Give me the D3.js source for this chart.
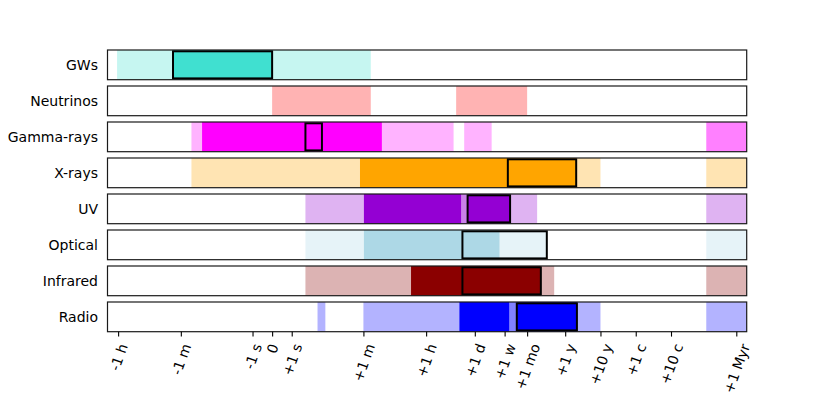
<!DOCTYPE html>
<html>
<head>
<meta charset="utf-8">
<script src="https://cdn.jsdelivr.net/npm/d3@7"></script>
<style>
  html, body { margin: 0; padding: 0; background: #fff; }
  svg { display: block; }
  text { font-family: "DejaVu Sans", sans-serif; }
</style>
</head>
<body>
<script>
// time units (seconds)
const S = 1, MIN = 60, H = 3600, D = 86400, W = 7 * D, MO = 30.44 * D, Y = 365.25 * D;
const END = 1.4e5 * Y;

const bands = ["GWs", "Neutrinos", "Gamma-rays", "X-rays", "UV", "Optical", "Infrared", "Radio"];
const colors = ["turquoise", "red", "magenta", "orange", "darkviolet", "lightblue", "darkred", "blue"];

// segments: [start, end, opacity]
const gwSegments       = [[-3850, 97, 0.3], [-100, 0, 1]];
const neutrinoSegments = [[0, 97, 0.3], [7.1 * H, 1 * MO, 0.3]];
const gammaSegments    = [[-30, 6 * H, 0.3], [-15, 200, 1], [12 * H, 3 * D, 0.3], [1e4 * Y, END, 0.5]];
const xraySegments     = [[-30, 10 * Y, 0.3], [48, 2.05 * Y, 1], [1e4 * Y, END, 0.3]];
const uvSegments       = [[1.7, 58.5 * D, 0.3], [62, 10 * H, 1], [10 * H, 15 * H, 0.5], [15 * H, 10 * D, 1], [1e4 * Y, END, 0.3]];
const opticalSegments  = [[1.7, 110 * D, 0.3], [62, 5 * D, 1], [1e4 * Y, END, 0.3]];
const irSegments       = [[1.7, 178 * D, 0.3], [22.4 * MIN, 74.5 * D, 1], [1e4 * Y, END, 0.3]];
const radioSegments    = [[3, 5, 0.3], [60, 10 * Y, 0.3], [8.8 * H, 9.6 * D, 1], [9.6 * D, 15.5 * D, 0.5], [15.5 * D, 2.15 * Y, 1], [1e4 * Y, END, 0.3]];
const segments = [gwSegments, neutrinoSegments, gammaSegments, xraySegments, uvSegments, opticalSegments, irSegments, radioSegments];

// highlighted windows (outlined)
const boxes = [[-100, 0], null, [1.7, 4], [8.64 * D, 2.05 * Y], [15 * H, 10 * D], [10.7 * H, 110 * D], [10.7 * H, 74.5 * D], [15.5 * D, 2.15 * Y]];

const tickLabels = ["-1 h", "-1 m", "-1 s", "0", "+1 s", "+1 m", "+1 h", "+1 d", "+1 w", "+1 mo", "+1 y", "+10 y", "+1 c", "+10 c", "+1 Myr"];
const tickTimes  = [-H, -MIN, -S, 0, S, MIN, H, D, W, MO, Y, 10 * Y, 100 * Y, 1000 * Y, 7.1e4 * Y];

// symmetric log transform (linear within +-2 s)
const LT = 2, LS = 1 / (1 - 1 / 10);
function symlog(t) {
  const a = Math.abs(t);
  const v = a <= LT ? (a / LT) * LS : LS + Math.log10(a / LT);
  return Math.sign(t) * v;
}

const width = 830, height = 415;
const left = 107.5, right = 746.7, top0 = 50, pitch = 36, panelH = 29.7;

const svg = d3.select("body").append("svg").attr("width", width).attr("height", height);

const x = d3.scaleLinear().domain([symlog(-2 * H), symlog(END)]).range([left, right]);
const y = d3.scaleBand().domain(bands).range([top0, top0 + pitch * bands.length]).paddingInner(1 - panelH / pitch).paddingOuter(0).align(0);
// ensure exact pitch
const bandTop = b => top0 + bands.indexOf(b) * pitch;

bands.forEach((b, i) => {
  const g = svg.append("g");
  const yt = bandTop(b);
  const base = colors[i];
  g.selectAll("rect.seg").data(segments[i]).enter().append("rect")
    .attr("class", "seg")
    .attr("x", d => x(symlog(d[0])))
    .attr("width", d => x(symlog(d[1])) - x(symlog(d[0])))
    .attr("y", yt)
    .attr("height", panelH)
    .attr("fill", d => d3.interpolateRgb("white", base)(d[2]));
  if (boxes[i]) {
    const bx = boxes[i];
    g.append("rect")
      .attr("x", x(symlog(bx[0])))
      .attr("width", x(symlog(bx[1])) - x(symlog(bx[0])))
      .attr("y", yt + 1.3)
      .attr("height", panelH - 2.6)
      .attr("fill", "none")
      .attr("stroke", "black")
      .attr("stroke-width", 2);
  }
  g.append("rect")
    .attr("x", left).attr("y", yt)
    .attr("width", right - left).attr("height", panelH)
    .attr("fill", "none").attr("stroke", "#1a1a1a").attr("stroke-width", 1.2);
  g.append("text")
    .attr("x", left - 9.5)
    .attr("y", yt + panelH / 2)
    .attr("text-anchor", "end")
    .attr("dominant-baseline", "central")
    .attr("font-size", 14)
    .attr("fill", "black")
    .text(b);
});

const axisY = bandTop("Radio") + panelH;
const axis = d3.axisBottom(x)
  .tickValues(tickTimes.map(symlog))
  .tickFormat((d, i) => tickLabels[i])
  .tickSize(4.9)
  .tickPadding(0);
const ag = svg.append("g").attr("transform", `translate(0,${axisY})`).call(axis);
ag.select(".domain").remove();
ag.selectAll(".tick line").attr("stroke", "black").attr("stroke-width", 1.1);
const fs = 14, ang = 70 * Math.PI / 180;
ag.selectAll(".tick text")
  .attr("font-size", fs)
  .attr("font-family", "DejaVu Sans, sans-serif")
  .attr("fill", "black")
  .attr("y", null).attr("dy", null)
  .attr("text-anchor", "middle")
  .attr("dominant-baseline", "central")
  .each(function () {
    const w = this.getComputedTextLength();
    const h = w * Math.sin(ang) + fs * 1.17 * Math.cos(ang);
    const topY = 4.9 + 4.9;
    d3.select(this).attr("transform", `translate(0,${topY + h / 2}) rotate(-70)`);
  });
</script>
</body>
</html>
